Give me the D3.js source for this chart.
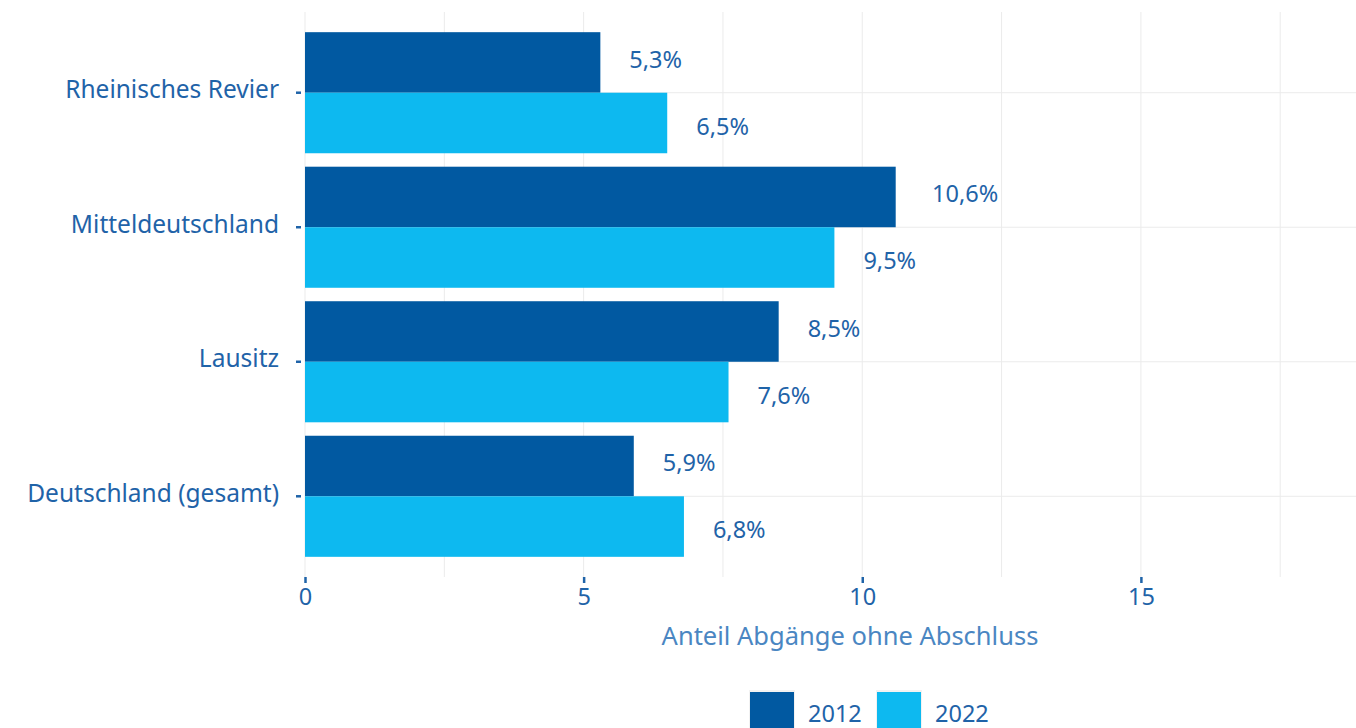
<!DOCTYPE html>
<html><head><meta charset="utf-8">
<script src="https://cdn.jsdelivr.net/npm/d3@7"></script>
<style>body{margin:0;background:#fff;} svg{display:block;font-family:"Noto Sans","Open Sans",sans-serif;}</style>
</head><body>
<svg id="chart" width="1356" height="728"></svg>
<script>
const categories = ["Rheinisches Revier", "Mitteldeutschland", "Lausitz", "Deutschland (gesamt)"];
const series = ["2012", "2022"];
const values2012 = [5.3, 10.6, 8.5, 5.9];
const values2022 = [6.5, 9.5, 7.6, 6.8];
const xTicks = [0, 5, 10, 15];
const colors = ["#0159A1", "#0DB9F0"];
const textColor = "#1F63A8";

(function() {
const svg = d3.select("#chart");
const pLeft = 305, pRight = 1356, pTop = 12, pBottom = 577;
const fs = 23.5;

const x = d3.scaleLinear().domain([0, 18.86]).range([pLeft, pRight]);
// ggplot-like discrete scale with 0.6 expansion on each side
const y = d3.scalePoint().domain(categories).range([pTop, pBottom]).padding(0.6);
const step = y.step();
const barH = 0.9 * step / 2;

// grid
const g = svg.append("g");
d3.range(0, 18.8, 2.5).forEach(v => {
  g.append("line").attr("x1", x(v)).attr("x2", x(v)).attr("y1", pTop).attr("y2", pBottom)
    .attr("stroke", "#EBEBEB").attr("stroke-width", 1);
});
categories.forEach(c => {
  g.append("line").attr("x1", pLeft).attr("x2", pRight).attr("y1", y(c)).attr("y2", y(c))
    .attr("stroke", "#EBEBEB").attr("stroke-width", 1);
});

// bars
const data = [];
categories.forEach((c, i) => {
  data.push({cat: c, s: 0, v: values2012[i]});
  data.push({cat: c, s: 1, v: values2022[i]});
});
svg.append("g").selectAll("rect").data(data).join("rect")
  .attr("x", x(0))
  .attr("y", d => y(d.cat) - barH + d.s * barH)
  .attr("width", d => x(d.v) - x(0))
  .attr("height", barH)
  .attr("fill", d => colors[d.s]);

// value labels
const fmt = v => d3.format(".1f")(v).replace(".", ",") + "%";
const lbl = svg.append("g").selectAll("text").data(data).join("text")
  .attr("y", d => y(d.cat) - barH / 2 + d.s * barH + (d.s ? 3.5 : -3))
  .attr("dy", "0.35em")
  .attr("font-size", fs)
  .attr("fill", textColor)
  .text(d => fmt(d.v));
lbl.each(function(d) {
  const w = this.getComputedTextLength();
  d3.select(this).attr("x", x(d.v) + w * 0.55);
});

// y axis labels
const ya = svg.append("g");
categories.forEach(c => {
  ya.append("line").attr("x1", 296).attr("x2", 301).attr("y1", y(c)).attr("y2", y(c))
    .attr("stroke", textColor).attr("stroke-width", 2.5);
  ya.append("text").attr("x", 279).attr("y", y(c) - 3).attr("dy", "0.35em")
    .attr("text-anchor", "end").attr("font-size", 24.5).attr("fill", textColor).text(c);
});

// x axis
const xa = svg.append("g").attr("transform", `translate(0,${pBottom})`)
  .call(d3.axisBottom(x).tickValues(xTicks).tickSize(6).tickPadding(5).tickFormat(d3.format("d")));
xa.select(".domain").remove();
xa.selectAll(".tick line").attr("stroke", textColor).attr("stroke-width", 2.5);
xa.selectAll(".tick text").attr("fill", textColor).attr("font-size", fs).attr("font-family", "Noto Sans, Open Sans, sans-serif");

svg.append("text").attr("x", 850).attr("y", 645).attr("text-anchor", "middle")
  .attr("font-size", 25.5).attr("fill", "#4A86C2").text("Anteil Abgänge ohne Abschluss");

// legend
const leg = svg.append("g");
const legX = [750, 877];
series.forEach((s, k) => {
  leg.append("rect").attr("x", legX[k] - 1).attr("y", 690).attr("width", 46).attr("height", 40).attr("fill", "#F2F2F2");
  leg.append("rect").attr("x", legX[k]).attr("y", 692).attr("width", 44).attr("height", 38).attr("fill", colors[k]);
  leg.append("text").attr("x", legX[k] + 58).attr("y", 722).attr("font-size", fs).attr("fill", textColor).text(s);
});
})();
</script>
</body></html>
